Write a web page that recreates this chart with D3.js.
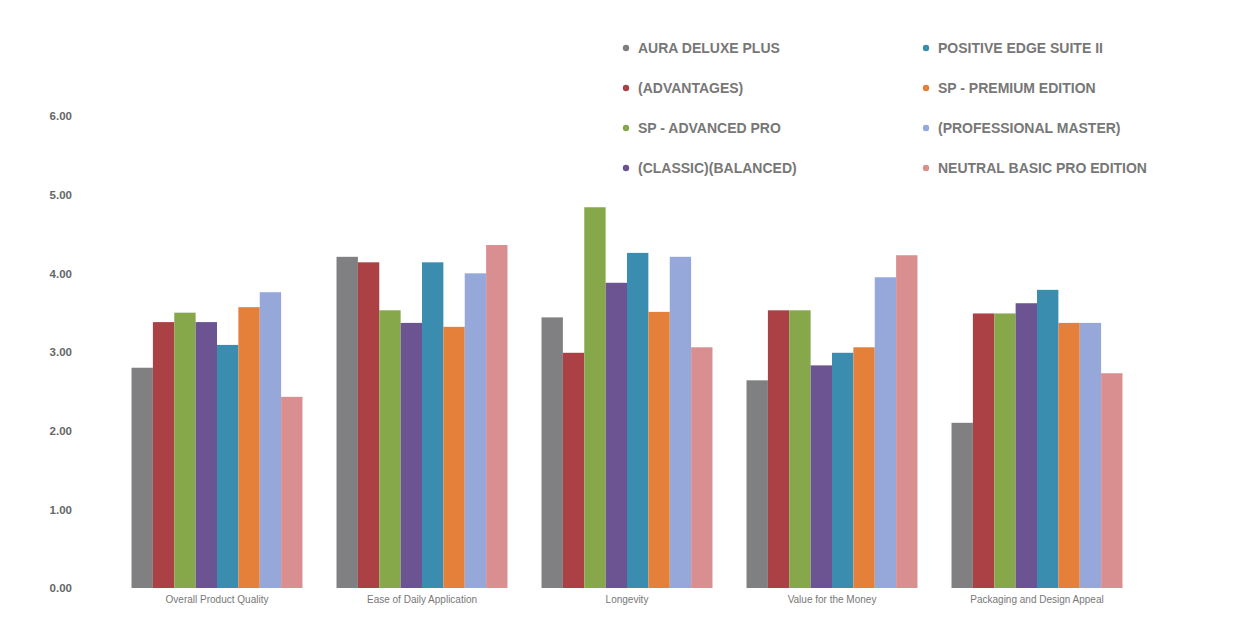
<!DOCTYPE html>
<html>
<head>
<meta charset="utf-8">
<script src="https://cdn.jsdelivr.net/npm/d3@7/dist/d3.min.js"></script>
<style>
  html, body { margin: 0; padding: 0; background: #ffffff; }
  svg { display: block; }
</style>
</head>
<body>
<svg id="chart" width="1239" height="639"></svg>
<script>
// ---- data ----
const categories = ["Overall Product Quality", "Ease of Daily Application", "Longevity", "Value for the Money", "Packaging and Design Appeal"];
const seriesNames = ["AURA DELUXE PLUS", "(ADVANTAGES)", "SP - ADVANCED PRO", "(CLASSIC)(BALANCED)", "POSITIVE EDGE SUITE II", "SP - PREMIUM EDITION", "(PROFESSIONAL MASTER)", "NEUTRAL BASIC PRO EDITION"];
const seriesColors = ["#808083", "#ab4144", "#86a84b", "#6c5391", "#3b8db0", "#e4803a", "#96a7d9", "#d98f90"];
const s1 = [2.80, 4.21, 3.44, 2.64, 2.10];
const s2 = [3.38, 4.14, 2.99, 3.53, 3.49];
const s3 = [3.50, 3.53, 4.84, 3.53, 3.49];
const s4 = [3.38, 3.37, 3.88, 2.83, 3.62];
const s5 = [3.09, 4.14, 4.26, 2.99, 3.79];
const s6 = [3.57, 3.32, 3.51, 3.06, 3.37];
const s7 = [3.76, 4.00, 4.21, 3.95, 3.37];
const s8 = [2.43, 4.36, 3.06, 4.23, 2.73];
const seriesValues = [s1, s2, s3, s4, s5, s6, s7, s8];
const yTicks = [0, 1, 2, 3, 4, 5, 6];

// ---- chart ----
const svg = d3.select("#chart");

const x0 = d3.scaleBand()
  .domain(categories)
  .range([114.5, 1139.5])
  .paddingInner(0.166)
  .paddingOuter(0.083);

const x1 = d3.scaleBand()
  .domain(d3.range(seriesNames.length))
  .range([0, x0.bandwidth()])
  .padding(0);

const y = d3.scaleLinear().domain([0, 6]).range([588, 116]);

// y axis labels
const yAxis = d3.axisLeft(y)
  .tickValues(yTicks)
  .tickFormat(d3.format(".2f"))
  .tickSize(0)
  .tickPadding(0);
const yg = svg.append("g").attr("transform", "translate(72,0)").call(yAxis);
yg.select(".domain").remove();
yg.selectAll("text")
  .attr("font-family", "Liberation Sans, Arial, sans-serif")
  .attr("font-size", 11.5)
  .attr("font-weight", "bold")
  .attr("fill", "#666");

// bars
const groups = svg.append("g")
  .selectAll("g")
  .data(categories)
  .join("g")
  .attr("transform", d => `translate(${x0(d)},0)`);

groups.selectAll("rect")
  .data((c, ci) => seriesValues.map((vals, si) => ({ si, v: vals[ci] })))
  .join("rect")
  .attr("x", d => x1(d.si))
  .attr("width", x1.bandwidth())
  .attr("y", d => y(d.v))
  .attr("height", d => y(0) - y(d.v))
  .attr("fill", d => seriesColors[d.si]);

// x axis labels
const xAxis = d3.axisBottom(x0).tickSize(0).tickPadding(0);
const xg = svg.append("g").attr("transform", "translate(0,596)").call(xAxis);
xg.select(".domain").remove();
xg.selectAll("text")
  .attr("font-family", "Liberation Sans, Arial, sans-serif")
  .attr("font-size", 10)
  .attr("fill", "#777");

// legend (column-major, 2 columns x 4 rows)
const legend = svg.append("g");
const colX = [622, 922];
const rowY = [48, 88, 128, 168];
seriesNames.forEach((name, i) => {
  const col = Math.floor(i / 4), row = i % 4;
  const g = legend.append("g").attr("transform", `translate(${colX[col]},${rowY[row]})`);
  g.append("circle").attr("cx", 4).attr("cy", 0).attr("r", 3.2).attr("fill", seriesColors[i]);
  g.append("text")
    .attr("x", 16)
    .attr("y", 0)
    .attr("dy", "0.35em")
    .attr("font-family", "Liberation Sans, Arial, sans-serif")
    .attr("font-size", 14)
    .attr("font-weight", "bold")
    .attr("fill", "#777")
    .text(name);
});
</script>
</body>
</html>
